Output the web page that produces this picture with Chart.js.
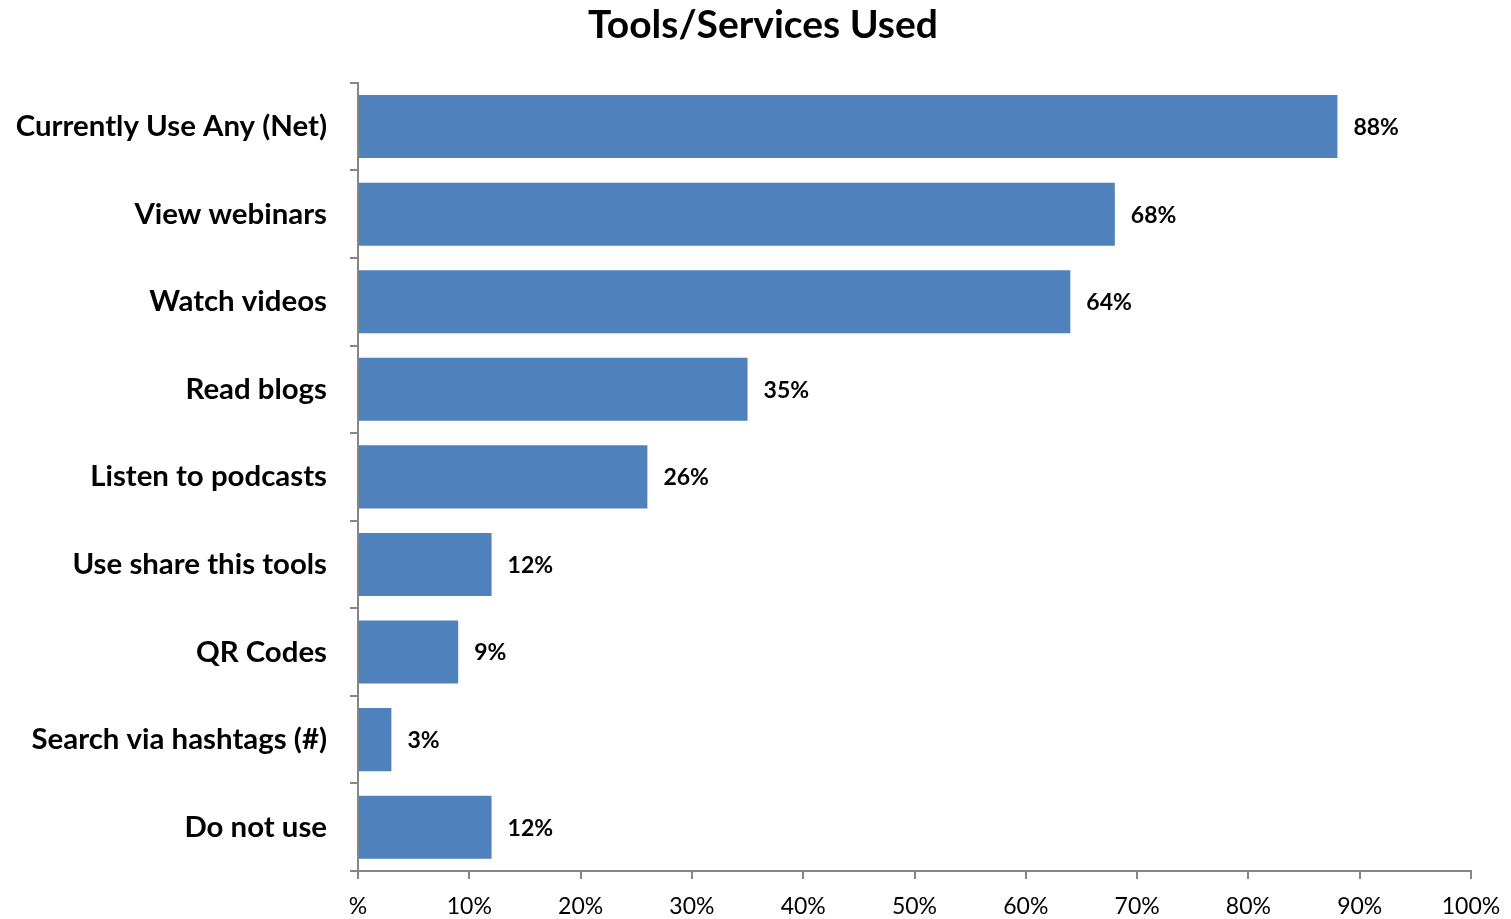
<!DOCTYPE html>
<html lang="en">
<head>
    <meta charset="UTF-8">
    <title>Tools/Services Used</title>
    <script src="https://cdn.jsdelivr.net/npm/chart.js"></script>
    <style>
        body {
            margin: 0;
            padding: 0;
            background-color: #fff;
        }
        #wrap {
            width: 1511px;
            height: 919px;
        }
    </style>
</head>
<body>
    <div id="wrap">
        <canvas id="chart" width="1511" height="919"></canvas>
    </div>
    <script>
        const categories = [
            "Currently Use Any (Net)",
            "View webinars",
            "Watch videos",
            "Read blogs",
            "Listen to podcasts",
            "Use share this tools",
            "QR Codes",
            "Search via hashtags (#)",
            "Do not use"
        ];
        const shares = [88, 68, 64, 35, 26, 12, 9, 3, 12];
        const xTicks = [0, 10, 20, 30, 40, 50, 60, 70, 80, 90, 100];

        const axisGray = "#868686";
        const fontFamily = "Lato, 'Open Sans', sans-serif";

        // writes the percentage just past the end of each bar
        const barValueLabels = {
            id: "barValueLabels",
            afterDatasetsDraw(chart) {
                const ctx = chart.ctx;
                const meta = chart.getDatasetMeta(0);
                ctx.save();
                ctx.font = "bold 23px " + fontFamily;
                ctx.fillStyle = "#000";
                ctx.textAlign = "left";
                ctx.textBaseline = "middle";
                meta.data.forEach((bar, i) => {
                    ctx.fillText(shares[i] + "%", bar.x + 16, bar.y + 1);
                });
                ctx.restore();
            }
        };

        new Chart(document.getElementById("chart"), {
            type: "bar",
            data: {
                labels: categories,
                datasets: [{
                    data: shares,
                    backgroundColor: "#4f81bd",
                    barPercentage: 0.72,
                    categoryPercentage: 1.0
                }]
            },
            options: {
                indexAxis: "y",
                responsive: false,
                animation: false,
                layout: {
                    padding: { left: 15, right: 0, top: 0, bottom: 0 }
                },
                plugins: {
                    legend: { display: false },
                    tooltip: { enabled: false },
                    title: {
                        display: true,
                        text: "Tools/Services Used",
                        color: "#000",
                        font: { family: fontFamily, size: 39, weight: "bold" },
                        padding: { top: 2, bottom: 34 }
                    }
                },
                scales: {
                    x: {
                        min: 0,
                        max: 100,
                        afterBuildTicks(scale) {
                            scale.ticks = xTicks.map(v => ({ value: v }));
                        },
                        afterFit(scale) {
                            scale.height = 48;
                            scale.paddingRight = 40;
                        },
                        border: { color: axisGray, width: 2 },
                        grid: {
                            drawOnChartArea: false,
                            color: axisGray,
                            lineWidth: 2,
                            tickLength: 8
                        },
                        ticks: {
                            color: "#000",
                            padding: 14,
                            maxRotation: 0,
                            font: { family: fontFamily, size: 23 },
                            callback: v => v === 0 ? "%" : v + "%"
                        }
                    },
                    y: {
                        afterFit(scale) {
                            scale.width = 343;
                        },
                        border: { color: axisGray, width: 2 },
                        grid: {
                            offset: true,
                            drawOnChartArea: false,
                            color: axisGray,
                            lineWidth: 2,
                            tickLength: 8
                        },
                        ticks: {
                            color: "#000",
                            padding: 23,
                            font: { family: fontFamily, size: 29.4, weight: "bold" }
                        }
                    }
                }
            },
            plugins: [barValueLabels]
        });
    </script>
</body>
</html>
